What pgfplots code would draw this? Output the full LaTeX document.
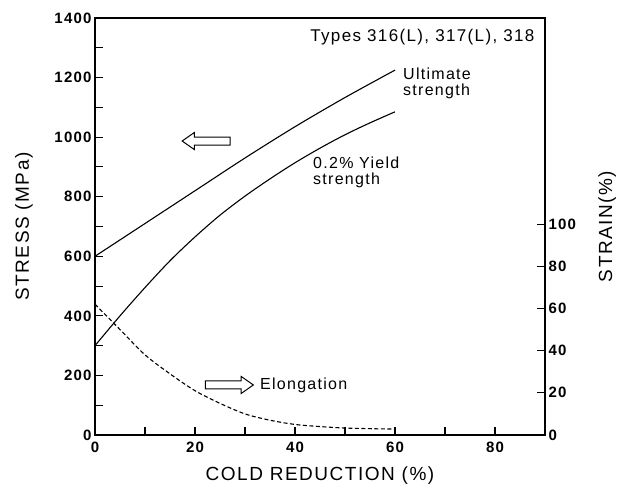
\documentclass[border=0pt]{standalone}
\usepackage{fontspec}
\setmainfont{Liberation Sans}[LetterSpace=8]
\usepackage{pgfplots}
\pgfplotsset{compat=1.18}
\usetikzlibrary{shapes.arrows}

\pgfplotsset{
  common/.style={
    width=450pt, height=417pt, scale only axis,
    xmin=0, xmax=90,
    tick align=inside,
    major tick length=8pt, minor tick length=8pt,
    tick style={line width=1.1pt, black},
    axis line style={line width=1.6pt},
    /pgf/number format/assume math mode=true,
    /pgf/number format/1000 sep={},
    ticklabel style={font=\fontsize{15}{17}\selectfont\bfseries},
    label style={font=\fontsize{19}{21}\selectfont},
  },
}

\begin{document}
\begin{tikzpicture}
% stress (left axis)
\begin{axis}[common,
  ymin=0, ymax=1400,
  xtick={0,20,...,80}, minor xtick={10,30,...,70},
  ytick={0,200,...,1400}, minor ytick={100,300,...,1300},
  xtick pos=bottom, ytick pos=left,
  xticklabel style={yshift=-3pt},
  xlabel={COLD REDUCTION (\%)},
  ylabel={STRESS (MPa)},
  xlabel style={at={(axis description cs:0.5,-0.098)}, anchor=center},
  ylabel style={at={(axis description cs:-0.158,0.5)}, anchor=center},
]
% ultimate strength
\addplot[black, line width=1.1pt, smooth] coordinates {
  (0,600) (10,710) (20,820) (30,930) (40,1035) (50,1133) (60,1225)};
% 0.2% yield strength
\addplot[black, line width=1.1pt, smooth] coordinates {
  (0,300) (5,400) (10,495) (15,585) (20,665) (25,738) (30,802)
  (35,860) (40,914) (45,963) (50,1008) (55,1048) (60,1085)};

\node[anchor=east, font=\fontsize{17}{19}\selectfont] at (axis cs:88.6,1336) {Types 316(L), 317(L), 318};
\node[anchor=west, align=left, inner sep=0pt, font=\fontsize{16}{16}\selectfont]
  at (axis cs:61.6,1182) {Ultimate\\strength};
\node[anchor=west, align=left, inner sep=0pt, font=\fontsize{16}{16}\selectfont]
  at (axis cs:43.6,883) {0.2\% Yield\\strength};
\node[anchor=west, inner sep=0pt, font=\fontsize{16}{16}\selectfont]
  at (axis cs:33,168) {Elongation};

\node[single arrow, draw, line width=1pt, inner sep=3.5pt, minimum height=48pt,
      single arrow head extend=4.5pt, single arrow tip angle=70,
      shape border rotate=180] at (axis cs:22.8,987) {};
\node[single arrow, draw, line width=1pt, inner sep=3.5pt, minimum height=48pt,
      single arrow head extend=4.5pt, single arrow tip angle=70]
  at (axis cs:26.3,168) {};
\end{axis}

% strain (right axis)
\begin{axis}[common,
  ymin=0, ymax=197.7,
  axis x line=none, axis y line*=right,
  ytick={0,20,...,100},
  ylabel={STRAIN(\%)},
  ylabel style={at={(axis description cs:1.138,0.5)}, anchor=center},
]
\addplot[black, line width=1.1pt, smooth, dash pattern=on 4pt off 2.5pt] coordinates {
  (0,62) (5,50) (10,38) (15,29) (20,21) (25,15) (30,10) (35,7)
  (40,5) (45,4) (50,3.3) (55,3) (60,2.8)};
\end{axis}

\pgfresetboundingbox
\path[use as bounding box] (-95pt,-56pt) rectangle (524pt,435pt);
\end{tikzpicture}
\end{document}
